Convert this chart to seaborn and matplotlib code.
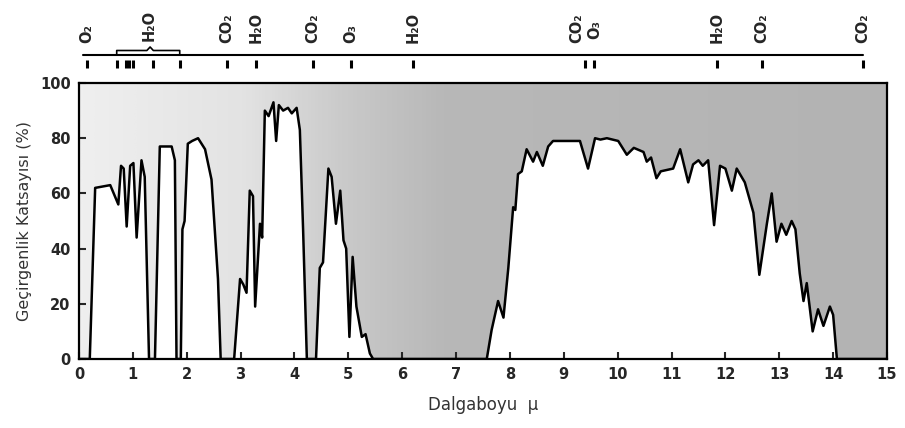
import numpy as np
import pandas as pd
import matplotlib
matplotlib.use("Agg")
import matplotlib.pyplot as plt
from matplotlib.colors import LinearSegmentedColormap
import seaborn as sns

# ---- data ----
wavelength = [0.0, 0.2, 0.30, 0.58, 0.73, 0.78, 0.83, 0.885, 0.95, 1.01, 1.07, 1.16, 1.22, 1.30,
              1.41, 1.50, 1.72, 1.78, 1.81,
              1.89, 1.92, 1.96, 2.02, 2.10, 2.21, 2.34, 2.46, 2.58, 2.63,
              2.88, 2.99, 3.05, 3.11, 3.17, 3.23, 3.27, 3.36, 3.40, 3.45, 3.52, 3.61, 3.66, 3.71,
              3.79, 3.88, 3.95, 4.04, 4.10, 4.16, 4.23,
              4.40, 4.47, 4.53, 4.63, 4.69, 4.77, 4.85, 4.91, 4.96, 5.02, 5.08, 5.15, 5.25, 5.32,
              5.40, 5.46,
              7.57, 7.66, 7.78, 7.88, 7.97, 8.06, 8.10, 8.15, 8.22, 8.31, 8.43, 8.50, 8.61, 8.71,
              8.80, 9.30, 9.45, 9.58, 9.68, 9.80, 10.01, 10.17, 10.30, 10.48, 10.54, 10.62, 10.72,
              10.80, 11.03, 11.16, 11.31, 11.40, 11.50, 11.58, 11.68, 11.79, 11.90, 12.00, 12.12,
              12.21, 12.36, 12.52, 12.63, 12.77, 12.86, 12.95, 13.04, 13.13, 13.23, 13.30, 13.38,
              13.45, 13.51, 13.62, 13.72, 13.82, 13.94, 14.00, 14.07, 15.0]
transmission = [0, 0, 62, 63, 56, 70, 69, 48, 70, 71, 44, 72, 66, 0,
                0, 77, 77, 72, 0,
                0, 47, 50, 78, 79, 80, 76, 65, 29, 0,
                0, 29, 27, 24, 61, 59, 19, 49, 44, 90, 88, 93, 79, 92,
                90, 91, 89, 91, 83, 47, 0,
                0, 33, 35, 69, 66, 49, 61, 43, 40, 8, 37, 19, 8, 9,
                2, 0,
                0, 10.5, 21, 15, 33, 55, 54, 67, 68, 76, 71.5, 75, 70, 77,
                79, 79, 69, 80, 79.5, 80, 79, 74, 76.5, 75, 71.5, 73, 65.5,
                68, 69, 76, 64, 70.5, 72, 70, 72, 48.5, 70, 69, 61,
                69, 64, 53, 30.5, 49, 60, 42.5, 49, 45, 50, 47, 31,
                21, 27.5, 10, 18, 12, 19, 16, 0, 0]

band_names = ["O₂", "H₂O", "CO₂", "H₂O", "CO₂", "O₃", "H₂O", "CO₂", "O₃", "H₂O", "CO₂", "CO₂"]
band_label_x = [0.15, 1.30, 2.75, 3.29, 4.34, 5.05, 6.2, 9.24, 9.58, 11.84, 12.68, 14.55]
band_ticks = [0.15, 0.70, 0.87, 0.93, 1.00, 1.37, 1.87, 2.75, 3.29, 4.34, 5.05, 6.2,
              9.40, 9.56, 11.84, 12.68, 14.55]

x_ticks = list(range(0, 16))
y_ticks = [0, 20, 40, 60, 80, 100]

df = pd.DataFrame({"wl": wavelength, "tr": transmission})

sns.set_style("ticks")
plt.rcParams["font.family"] = ["DejaVu Sans"]

W, H = 905, 428
fig = plt.figure(figsize=(W / 100, H / 100), dpi=100)
L, R, T, B = 79, 887, 83, 359
ax = fig.add_axes([L / W, (H - B) / H, (R - L) / W, (B - T) / H])

# gray absorption region (above the curve)
cmap = LinearSegmentedColormap.from_list(
    "absorb", [(0.0, "#efefef"), (0.2, "#e3e3e3"), (0.33, "#c9c9c9"),
               (0.45, "#b8b8b8"), (1.0, "#b3b3b3")])
grad = np.linspace(0, 1, 300).reshape(1, -1)
poly = ax.fill_between(df["wl"], df["tr"], 100, color="none", lw=0)
im = ax.imshow(grad, extent=(0, 15, 0, 100), aspect="auto", cmap=cmap,
               origin="lower", zorder=0, interpolation="bilinear")
im.set_clip_path(poly.get_paths()[0], transform=ax.transData)

sns.lineplot(data=df, x="wl", y="tr", ax=ax, color="black", lw=1.8,
             estimator=None, sort=False, zorder=3)

ax.set_xlim(0, 15)
ax.set_ylim(0, 100)
ax.set_xticks(x_ticks)
ax.set_yticks(y_ticks)
ax.tick_params(direction="in", length=5, width=1.5, labelsize=10.5, pad=6)
for lab in ax.get_xticklabels() + ax.get_yticklabels():
    lab.set_fontweight("bold")
for s in ax.spines.values():
    s.set_linewidth(1.6)
    s.set_color("black")
ax.set_xlabel("Dalgaboyu  µ", fontsize=12, color="#333333", labelpad=10)
ax.set_ylabel("Geçirgenlik Katsayısı (%)", fontsize=11.5, color="#333333", labelpad=6)

# top strip with absorbing molecules
tax = fig.add_axes([L / W, (H - 72) / H, (R - L) / W, 72 / H])
tax.set_xlim(0, 15)
tax.set_ylim(72, 0)
tax.axis("off")
tax.plot([0.07, 14.55], [55, 55], color="black", lw=1.5)
tax.vlines(band_ticks, 60, 68, color="black", lw=2.2)
tax.plot([0.70, 0.70, 1.26, 1.32, 1.38, 1.87, 1.87], [55, 50.5, 50.5, 47, 50.5, 50.5, 55],
         color="black", lw=1.2)
for name, xv in zip(band_names, band_label_x):
    yb = 39 if name == "O₃" and xv > 9 else 43
    if name == "H₂O" and xv < 2:
        yb = 41
    tax.text(xv, yb, name, rotation=90, ha="center", va="bottom",
             fontsize=10.5, fontweight="bold")

fig.savefig("out.png", dpi=100)
